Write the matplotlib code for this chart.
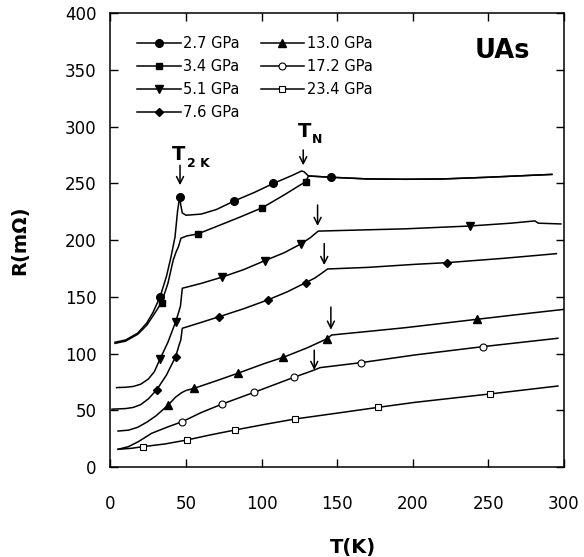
import matplotlib
matplotlib.use('Agg')
import matplotlib.pyplot as plt

# T (K) and R (mOhm)
t_27 = [3, 10, 18, 24, 28, 32.8, 37, 40, 42.7, 44.4, 45.8, 46.5, 47.5, 50, 60, 70, 81.9, 95,
        107.7, 120, 126.4, 128, 131, 145.8, 170, 195, 220, 250, 275, 292]
r_27 = [110, 112, 118, 127, 136, 150, 168, 185, 203, 226, 238, 231, 224, 222, 223, 227, 234.6, 242,
        250, 257, 261, 260.4, 256.6, 255.5, 254, 253.7, 254, 255.5, 257, 258]
mark_27 = [5, 10, 16, 18, 23]

t_34 = [3, 10, 18, 24, 28, 33.8, 38, 41.5, 43.5, 44.9, 46.6, 50.4, 57.7, 70, 85, 100.4, 115,
        129.1, 131, 145.8, 170, 195, 220, 250, 275, 292]
r_34 = [109, 111, 117, 125, 133, 145, 162, 182.5, 190, 194, 201.7, 203.7, 205.5, 212, 220, 228.6, 240,
        251.6, 256.6, 255.5, 254, 253.7, 254, 255.5, 257, 258]
mark_34 = [5, 12, 15, 17]

t_51 = [4, 10, 15, 20, 25, 29, 32.7, 38, 43.1, 45, 46.3, 47.5, 60.3, 73.5, 88, 102.2, 115, 125.8,
        132, 137.4, 160, 194.8, 237.8, 265, 280.8, 283, 298]
r_51 = [70, 70.3, 71, 73, 77.5, 84, 95, 110, 128, 136, 142, 157.6, 162, 167.3, 174, 182, 189, 196.6,
        202, 208, 208.8, 210, 212.5, 215, 217, 215, 214.3]
mark_51 = [6, 8, 13, 15, 17, 22]

t_76 = [1, 10, 15, 20, 25, 30.5, 37, 43.1, 45.5, 46.5, 47.5, 60, 71.9, 88, 104, 117, 129.1, 135,
        139.7, 143.6, 170, 201.4, 222.8, 260, 295]
r_76 = [51, 51.5, 52.5, 55, 60, 67.9, 81, 97.3, 108, 112, 122.3, 127.5, 132.5, 139.5, 147.3, 154.5,
        162.5, 166.5, 170.8, 174.6, 176, 178.7, 180.2, 184, 188.1]
mark_76 = [5, 7, 12, 14, 16, 22]

t_130 = [5, 12, 18, 24, 30, 38.2, 43, 47, 50, 55.4, 70, 84.1, 102.2, 114.3, 130, 143, 146.3,
         170, 194.8, 242.2, 270, 300]
r_130 = [31.7, 32.5, 35, 39.5, 45, 54.7, 61.5, 65.5, 67.5, 69.4, 76, 82.6, 91.4, 96.7, 105, 112.9,
         116.4, 119.5, 122.8, 130.2, 134.5, 139]
mark_130 = [5, 9, 11, 13, 15, 19]

t_172 = [5, 11.8, 18.4, 27.2, 38.2, 47.6, 60, 73.5, 95.1, 121.4, 134.8, 138.6, 165.7, 201.4,
         246.2, 296]
r_172 = [15.6, 17.9, 22.3, 29.7, 35.5, 40, 48, 55.3, 65.9, 79.1, 85.5, 87.6, 92, 98.8, 106.1, 113.5]
mark_172 = [5, 7, 8, 9, 12, 14]

t_234 = [5, 14, 21.3, 36, 50.6, 65, 82.3, 102.2, 122, 150, 177.1, 201.4, 251, 296]
r_234 = [15.6, 16.5, 17.9, 20.3, 23.8, 28, 32.6, 37.6, 42.3, 47.5, 52.6, 57, 64.4, 71.4]
mark_234 = [2, 4, 6, 8, 10, 12]

labels = ['2.7 GPa', '3.4 GPa', '5.1 GPa', '7.6 GPa', '13.0 GPa', '17.2 GPa', '23.4 GPa']

# (T, R tail, R tip) of the transition arrows
arrows = [(46, 266, 248.5), (127.5, 279.5, 266), (137, 231, 212.5), (141.4, 197, 178),
          (145.8, 141, 121), (134.8, 103, 85.5)]

fig = plt.figure(figsize=(5.84, 5.57), dpi=100)
ax = fig.add_axes([0.1892, 0.1616, 0.7765, 0.8144])

series = [
    (t_27, r_27, mark_27, dict(marker='o', ms=5.5, mfc='black')),
    (t_34, r_34, mark_34, dict(marker='s', ms=5, mfc='black')),
    (t_51, r_51, mark_51, dict(marker='v', ms=5.5, mfc='black')),
    (t_76, r_76, mark_76, dict(marker='D', ms=4, mfc='black')),
    (t_130, r_130, mark_130, dict(marker='^', ms=5.5, mfc='black')),
    (t_172, r_172, mark_172, dict(marker='o', ms=5, mfc='white', mew=0.8)),
    (t_234, r_234, mark_234, dict(marker='s', ms=5, mfc='white', mew=0.8)),
]
for (t, r, marks, style), lab in zip(series, labels):
    ax.plot(t, r, color='black', lw=1.1, mec='black', markevery=marks, label=lab, **style)

for x, y0, y1 in arrows:
    ax.annotate('', xy=(x, y1), xytext=(x, y0),
                arrowprops=dict(arrowstyle='->,head_length=0.5,head_width=0.25',
                                color='black', lw=1.1, shrinkA=0, shrinkB=0))

ax.text(45.3, 275.6, 'T', fontsize=14, fontweight='bold', ha='center', va='center')
ax.text(50.3, 267.5, '2 K', fontsize=9, fontweight='bold', ha='left', va='center')
ax.text(128.3, 295.5, 'T', fontsize=14, fontweight='bold', ha='center', va='center')
ax.text(133.5, 288.5, 'N', fontsize=9, fontweight='bold', ha='left', va='center')
ax.text(259, 367, 'UAs', fontsize=18.5, fontweight='bold', ha='center', va='center')

ax.set_xlim(0, 300)
ax.set_ylim(0, 400)
ax.set_xticks(range(0, 301, 50))
ax.set_yticks(range(0, 401, 50))
ax.tick_params(direction='in', length=6, width=1, top=True, right=True, labelsize=12)
ax.tick_params(axis='x', pad=20)
ax.tick_params(axis='y', pad=10)
for sp in ax.spines.values():
    sp.set_linewidth(1.1)

ax.set_xlabel('T(K)', fontsize=14, fontweight='bold', labelpad=18, x=0.535)
ax.set_ylabel('R(m\u03a9)', fontsize=14, fontweight='bold', labelpad=26)

ax.legend(ncol=2, loc='upper left', bbox_to_anchor=(0.058, 0.95), frameon=False, fontsize=10.5,
          handlelength=3.0, handletextpad=0.2, labelspacing=0.55, columnspacing=1.4,
          borderpad=0, borderaxespad=0)

fig.savefig('out.png', dpi=100)
